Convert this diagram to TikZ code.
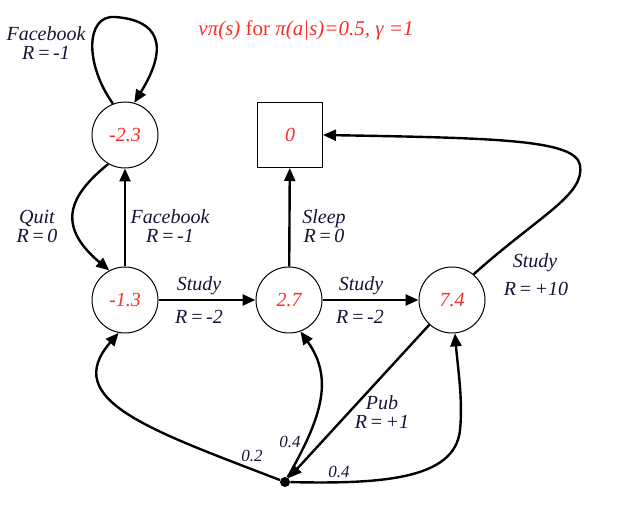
\documentclass[tikz,border=0pt]{standalone}
\usepackage{fontspec}
\setmainfont{Liberation Serif}
\usetikzlibrary{arrows.meta}
\definecolor{rojo}{RGB}{250,45,40}
\definecolor{tinta}{RGB}{20,20,55}
\tikzset{
  estado/.style={circle, draw, line width=0.5pt, minimum size=33pt, inner sep=0pt,
    text=rojo, font=\itshape\fontsize{10}{12}\selectfont},
  terminal/.style={rectangle, draw, line width=0.5pt, minimum size=32.5pt, inner sep=0pt,
    text=rojo, font=\itshape\fontsize{10}{12}\selectfont},
  flecha/.style={line width=1.2pt, -{Triangle[length=6.5pt,width=5.5pt]}},
  etiqueta/.style={text=tinta, align=center, inner sep=0pt,
    font=\itshape\fontsize{10}{9.5}\selectfont,
    execute at begin node={\spaceskip=1.3pt\relax}},
  prob/.style={text=tinta, inner sep=0pt, font=\itshape\fontsize{8.5}{10}\selectfont},
}
\begin{document}
\begin{tikzpicture}[x=0.5pt, y=-0.5pt]
    \useasboundingbox (0,0) rectangle (635,522);
    % Titulo
    \node[text=rojo, font=\fontsize{10.5}{12}\selectfont] (titulo) at (306,30)
        {\textit{vπ(s)} for \textit{π(a|s)=0.5, γ =1}};
    % Estados
    \node[estado] (fb) at (125,135) {-2.3};
    \node[terminal] (dormir) at (290,135) {0};
    \node[estado] (c1) at (125,300) {-1.3};
    \node[estado] (c2) at (289,300) {2.7};
    \node[estado] (c3) at (452,300) {7.4};
    \node[circle, fill, inner sep=0pt, minimum size=5pt] (pub) at (285,482) {};
    % Transiciones rectas
    \draw[flecha] (c1) -- (fb);
    \draw[flecha] (c1) -- (c2);
    \draw[flecha] (c2) -- (c3);
    \draw[flecha] (c2) -- (dormir);
    \draw[flecha] (c3) -- (pub);
    % Transiciones curvas
    \draw[flecha] (fb.111) .. controls (85,65) and (85,15) .. (115,17)
        .. controls (158,20) and (170,45) .. (fb.74);
    \draw[flecha] (fb.240) .. controls (70,195) and (55,225) .. (c1.118);
    \draw[flecha] (c3.50) .. controls (540,215) and (585,195) .. (580,165)
        .. controls (575,140) and (500,138) .. (dormir.east);
    \draw[flecha] (pub) .. controls (150,430) and (60,400) .. (c1.259);
    \draw[flecha] (pub) .. controls (320,420) and (335,380) .. (c2.290);
    \draw[flecha] (pub) .. controls (380,484) and (455,480) .. (460,430)
        .. controls (463,400) and (458,370) .. (c3.275);
    % Etiquetas
    \node[etiqueta] (lfb) at (46,43) {Facebook\\R = -1};
    \node[etiqueta] (lquit) at (37,226) {Quit\\R = 0};
    \node[etiqueta] (lfbdos) at (170,226) {Facebook\\R = -1};
    \node[etiqueta] (lsleep) at (324,226) {Sleep\\R = 0};
    \node[etiqueta] (lstuno) at (199,286) {Study};
    \node[etiqueta] (lruno) at (199,317) {R = -2};
    \node[etiqueta] (lstdos) at (361,286) {Study};
    \node[etiqueta] (lrdos) at (360,317) {R = -2};
    \node[etiqueta] (lsttres) at (535,263) {Study};
    \node[etiqueta] (lrtres) at (536,289) {R = +10};
    \node[etiqueta] (lpub) at (382,412) {Pub\\R = +1};
    \node[prob] (puno) at (252,456) {0.2};
    \node[prob] (pdos) at (290,442) {0.4};
    \node[prob] (ptres) at (339,472) {0.4};
\end{tikzpicture}
\end{document}
